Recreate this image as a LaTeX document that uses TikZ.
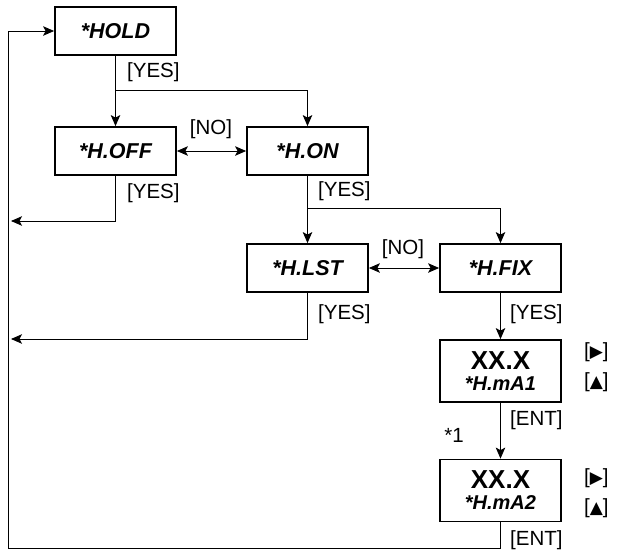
\documentclass[tikz,border=0pt]{standalone}
\usepackage{fontspec}
\setmainfont{Liberation Sans}
\newfontfamily\symfont{DejaVu Sans}
\usetikzlibrary{arrows.meta}
\begin{document}
\begin{tikzpicture}[x=1pt,y=-1pt,
  box/.style={draw,line width=1.8pt,minimum width=121pt,minimum height=48pt,inner sep=0pt,
     font=\fontsize{21.5}{22}\selectfont\bfseries\itshape},
  vbox/.style={draw,line width=1.8pt,minimum width=121pt,minimum height=62pt,inner sep=0pt,align=center,
     font=\fontsize{20}{21}\selectfont\bfseries},
  lbl/.style={font=\fontsize{20.5}{22}\selectfont,inner sep=0pt},
  conn/.style={line width=0.9pt},
  arr/.style={conn,-{Stealth[length=11pt,width=9.5pt,inset=2.5pt]}},
  darr/.style={conn,{Stealth[length=11pt,width=9.5pt,inset=2.5pt]}-{Stealth[length=11pt,width=9.5pt,inset=2.5pt]}}]
\useasboundingbox (0,0) rectangle (619,557);
\node[box] (hold) at (115.5,31) {*HOLD};
\node[box] (hoff) at (115.5,151) {*H.OFF};
\node[box] (hon) at (307.5,151) {*H.ON};
\node[box] (hlst) at (307.5,268) {*H.LST};
\node[box] (hfix) at (500.5,268) {*H.FIX};
\node[vbox] (ma1) at (500.5,371) {{\fontsize{26}{21}\selectfont XX.X}\\{\itshape *H.mA1}};
\node[vbox] (ma2) at (500.5,490.5) {{\fontsize{26}{21}\selectfont XX.X}\\{\itshape *H.mA2}};
% coordinates
\coordinate (b1) at (115.5,90);
\coordinate (b2) at (307.5,208);
\coordinate (l1) at (11,221);
\coordinate (l2) at (11,339);
\coordinate (ret) at (8,548);
% connectors
\draw[arr] (hold.south) -- (hoff.north);
\draw[arr] (b1) -| (hon.north);
\draw[darr] (hoff.east) -- (hon.west);
\draw[arr] (hoff.south) |- (l1);
\draw[arr] (hon.south) -- (hlst.north);
\draw[arr] (b2) -| (hfix.north);
\draw[darr] (hlst.east) -- (hfix.west);
\draw[arr] (hlst.south) |- (l2);
\draw[arr] (hfix.south) -- (ma1.north);
\draw[arr] (ma1.south) -- (ma2.north);
\draw[arr] (ma2.south) |- (ret) |- (hold.west);
% labels
\node[lbl,anchor=west] (y1) at (127,72) {[YES]};
\node[lbl,anchor=west] (y2) at (127,193) {[YES]};
\node[lbl,anchor=west] (y3) at (318,191) {[YES]};
\node[lbl,anchor=west] (y4) at (318,314) {[YES]};
\node[lbl,anchor=west] (y5) at (510,314) {[YES]};
\node[lbl] (n1) at (211,129) {[NO]};
\node[lbl] (n2) at (403,249) {[NO]};
\node[lbl,anchor=west] (e1) at (510,420) {[ENT]};
\node[lbl,anchor=west] (e2) at (510,540) {[ENT]};
\node[lbl] (s1) at (454,435) {*1};
\node[lbl,anchor=west] (k1) at (584,352) {[{\symfont\fontsize{17}{17}\selectfont ▶}]};
\node[lbl,anchor=west] (k2) at (584,382) {[{\symfont\fontsize{17}{17}\selectfont ▲}]};
\node[lbl,anchor=west] (k3) at (584,478) {[{\symfont\fontsize{17}{17}\selectfont ▶}]};
\node[lbl,anchor=west] (k4) at (584,508) {[{\symfont\fontsize{17}{17}\selectfont ▲}]};
\end{tikzpicture}
\end{document}
